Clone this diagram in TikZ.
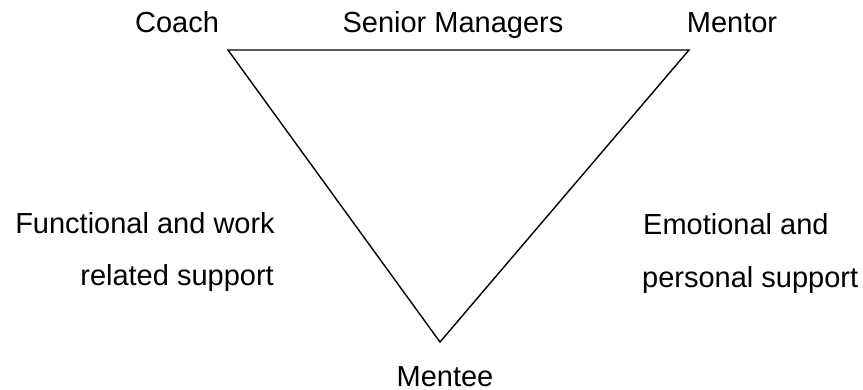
\documentclass[tikz,border=0pt]{standalone}
\usepackage{fontspec}
\setmainfont{Liberation Sans}
\begin{document}
\begin{tikzpicture}[x=1pt,y=-1pt,
  lbl/.style={inner sep=0pt,font=\fontsize{29}{31}\selectfont},
  edge/.style={line width=1.4pt,line join=miter}]
\useasboundingbox (0,0) rectangle (863,389);
\coordinate (tl) at (228,50);
\coordinate (tr) at (689,50);
\coordinate (bt) at (440,342);
\draw[edge] (tl) -- (tr) -- (bt) -- cycle;
\node[lbl,anchor=base] (coach) at (177,32) {Coach};
\node[lbl,anchor=base] (senior) at (453,32) {Senior Managers};
\node[lbl,anchor=base] (mentor) at (732,32) {Mentor};
\node[lbl,anchor=base east] (func1) at (275,233) {Functional and work};
\node[lbl,anchor=base east] (func2) at (274,285) {related support};
\node[lbl,anchor=base west] (emo1) at (643,234) {Emotional and};
\node[lbl,anchor=base west] (emo2) at (642,287) {personal support};
\node[lbl,anchor=base] (mentee) at (445,386) {Mentee};
\end{tikzpicture}
\end{document}
